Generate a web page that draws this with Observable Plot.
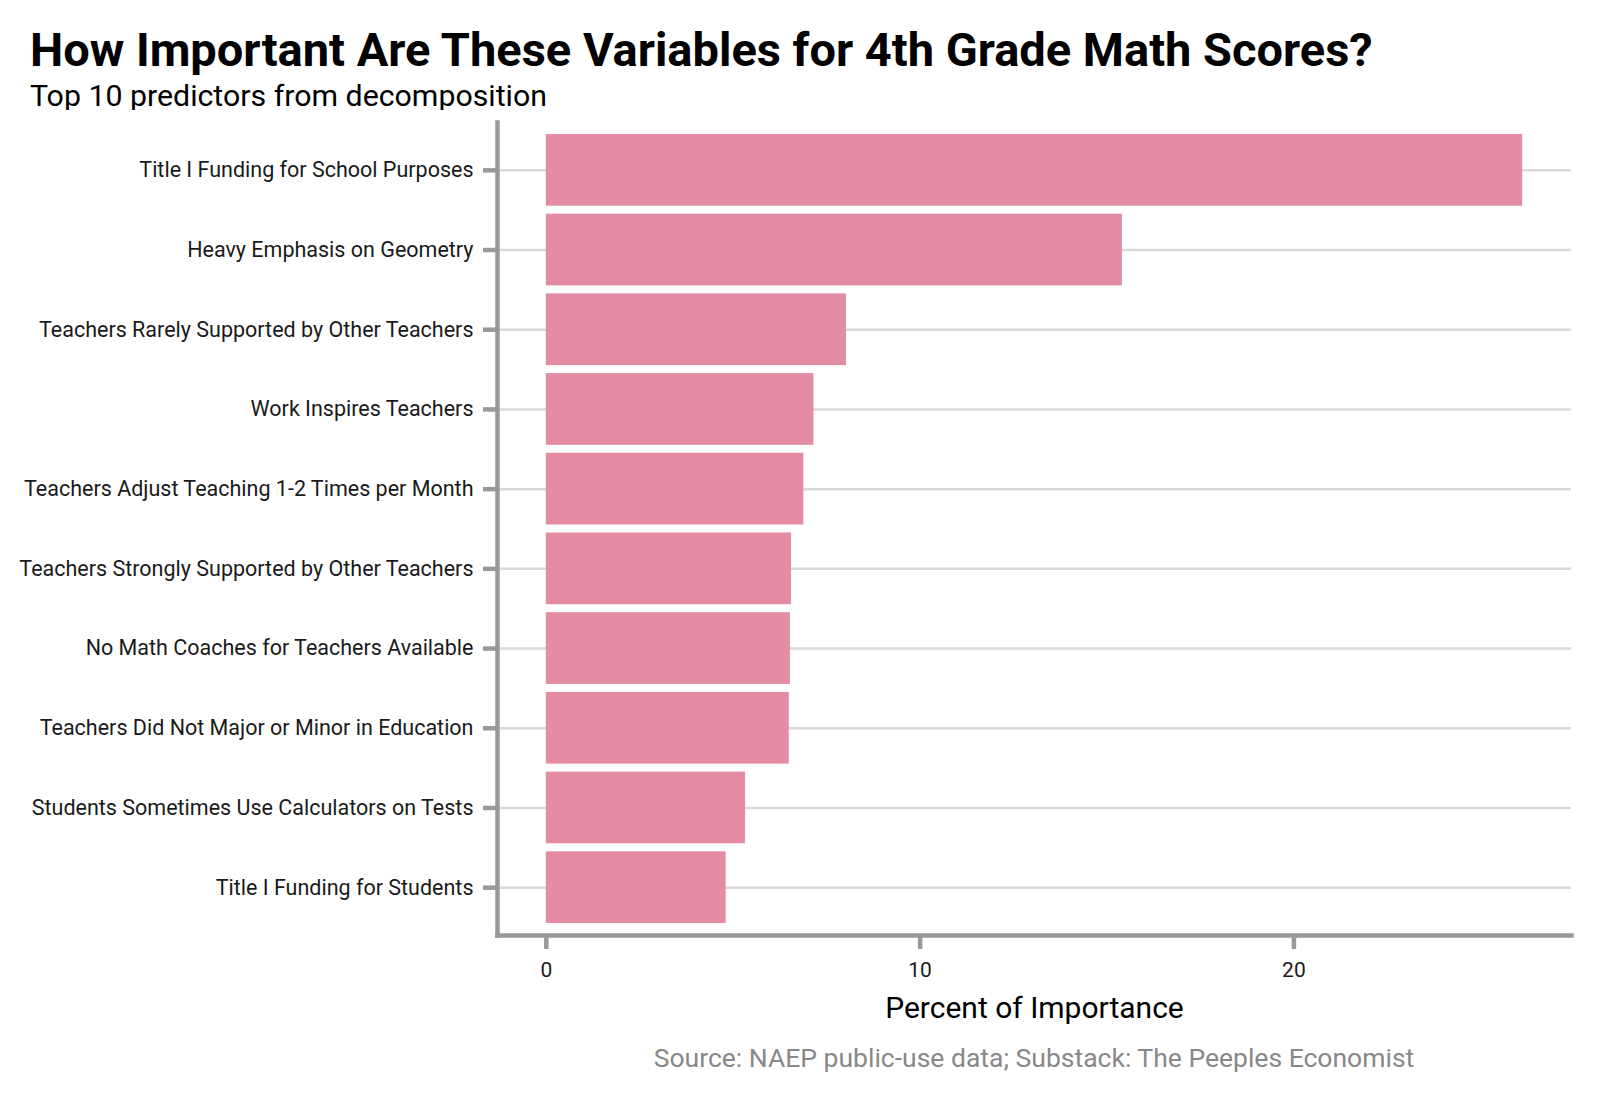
<!DOCTYPE html>
<html>
<head>
<meta charset="utf-8">
<script src="https://cdn.jsdelivr.net/npm/d3@7"></script>
<script src="https://cdn.jsdelivr.net/npm/@observablehq/plot@0.6"></script>
<style>
  body { margin: 0; background: #fff; }
  #page { position: relative; width: 1600px; height: 1100px; font-family: Roboto, sans-serif; }
  #title { position: absolute; left: 30px; top: 26px; font-size: 47px; line-height: 47px; font-weight: 700; color: #000; white-space: nowrap; }
  #subtitle { position: absolute; left: 30px; top: 81px; font-size: 30.3px; line-height: 30px; color: #000; white-space: nowrap; }
  #chart { position: absolute; left: 0; top: 110px; }
  #caption { position: absolute; left: 497px; width: 1074px; top: 1045px; font-size: 26.5px; line-height: 26.5px; color: #888; text-align: center; white-space: nowrap; }
  g[aria-label="x-axis label"] text { font-size: 30px; fill: #000; }
</style>
</head>
<body>
<div id="page">
  <div id="title">How Important Are These Variables for 4th Grade Math Scores?</div>
  <div id="subtitle">Top 10 predictors from decomposition</div>
  <div id="chart"></div>
  <div id="caption">Source: NAEP public-use data; Substack: The Peeples Economist</div>
</div>
<script>
const labels = [
  "Title I Funding for School Purposes",
  "Heavy Emphasis on Geometry",
  "Teachers Rarely Supported by Other Teachers",
  "Work Inspires Teachers",
  "Teachers Adjust Teaching 1-2 Times per Month",
  "Teachers Strongly Supported by Other Teachers",
  "No Math Coaches for Teachers Available",
  "Teachers Did Not Major or Minor in Education",
  "Students Sometimes Use Calculators on Tests",
  "Title I Funding for Students"
];
const values = [26.12, 15.41, 8.03, 7.16, 6.89, 6.56, 6.53, 6.50, 5.33, 4.81];
const xTicks = [0, 10, 20];
const xLabel = "Percent of Importance";

const data = labels.map((label, i) => ({label, value: values[i]}));
const maxV = d3.max(values);

const chart = Plot.plot({
  width: 1600,
  height: 930,
  marginTop: 12,
  marginBottom: 105,
  marginLeft: 497,
  marginRight: 29,
  style: {fontFamily: "Roboto, sans-serif", background: "#fff"},
  x: {domain: [-0.05 * maxV, 1.05 * maxV]},
  y: {domain: labels, paddingInner: 0.1, paddingOuter: 0.15, round: false},
  marks: [
    Plot.gridY({stroke: "#d9d9d9", strokeOpacity: 1, strokeWidth: 2.5}),
    Plot.barX(data, {x: "value", y: "label", fill: "#e48ca4"}),
    Plot.frame({anchor: "left", stroke: "#999", strokeWidth: 4.5}),
    Plot.frame({anchor: "bottom", stroke: "#999", strokeWidth: 4.5}),
    Plot.axisY({tickSize: 14, tickPadding: 10, stroke: "#999", strokeWidth: 4.5, fontSize: 21.5, fill: "#1a1a1a", label: null}),
    Plot.axisX({ticks: xTicks, tickSize: 14, tickPadding: 13, stroke: "#999", strokeWidth: 4.5, fontSize: 21, fill: "#1a1a1a",
      label: xLabel, labelAnchor: "center", labelArrow: "none", labelOffset: 82})
  ]
});
document.getElementById("chart").appendChild(chart);
</script>
</body>
</html>
